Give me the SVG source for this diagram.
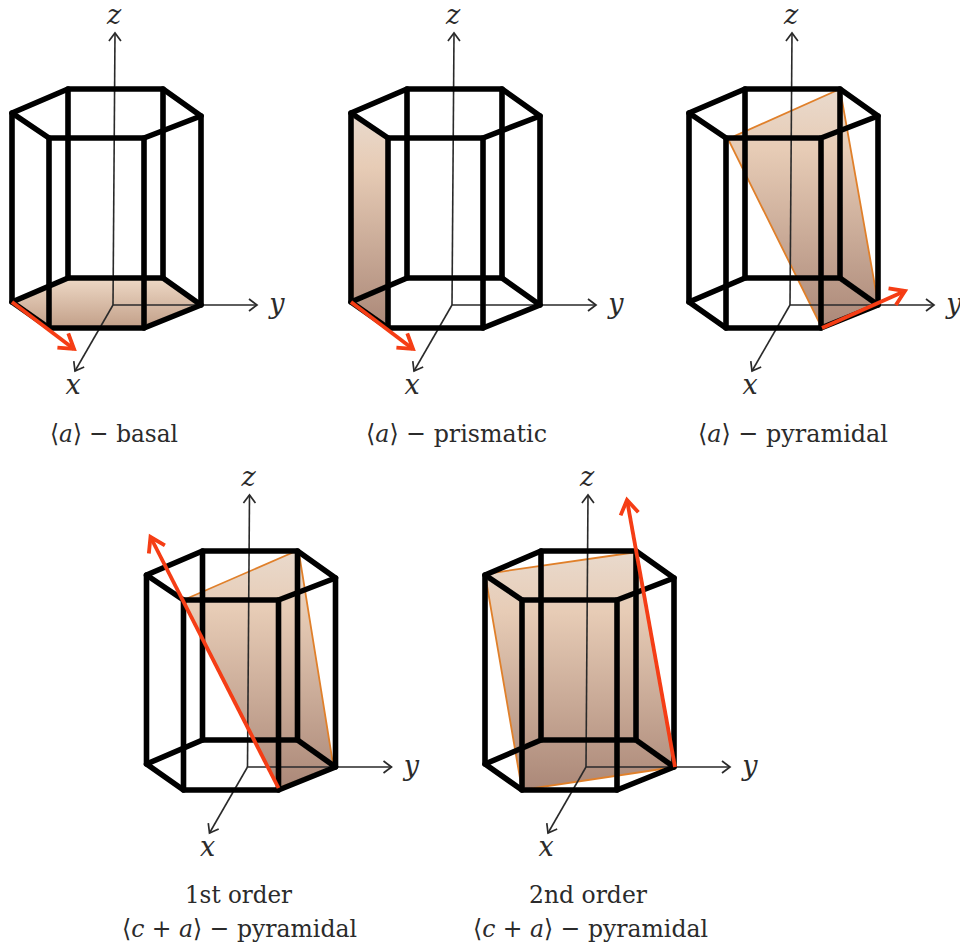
<svg xmlns="http://www.w3.org/2000/svg" xmlns:xlink="http://www.w3.org/1999/xlink" width="960" height="943" viewBox="0 0 960 943">
<style>
.hex{fill:none;stroke:#050505;stroke-width:5.6;stroke-linejoin:round;stroke-linecap:round}
.axis{fill:none;stroke:#2a2a2a;stroke-width:1.6;marker-end:url(#ah)}
.red{fill:none;stroke:#f53c12;stroke-width:3.8;marker-end:url(#rh)}
.edge{fill:none;stroke:#e0802c;stroke-width:1.8}
.lab{font-family:"DejaVu Serif","Liberation Serif",serif;fill:#2b2b2b;font-size:25px}
.it{font-style:italic;font-size:25px}
.ax{font-family:"DejaVu Serif","Liberation Serif",serif;fill:#2b2b2b;font-style:italic;font-size:27px;text-anchor:middle}
.art{filter:url(#soft)}
</style>
<defs>
<filter id="soft" x="-5%" y="-5%" width="110%" height="110%"><feGaussianBlur stdDeviation="0.55"/></filter>
<linearGradient id="g" x1="0" y1="0" x2="0" y2="1">
<stop offset="0" stop-color="#e9dacd"/><stop offset="0.25" stop-color="#e7ccb6"/><stop offset="1" stop-color="#ab8878"/>
</linearGradient>
<linearGradient id="gb" x1="0" y1="0" x2="0" y2="1">
<stop offset="0" stop-color="#eed9c6"/><stop offset="1" stop-color="#c29f88"/>
</linearGradient>
<marker id="ah" markerUnits="userSpaceOnUse" markerWidth="16" markerHeight="16" refX="10" refY="7" orient="auto"><path d="M2,1 L10,7 L2,13" fill="none" stroke="#2a2a2a" stroke-width="1.7"/></marker>
<marker id="rh" markerUnits="userSpaceOnUse" markerWidth="26" markerHeight="26" refX="18" refY="11" orient="auto"><path d="M4,2 L18,11 L4,20" fill="none" stroke="#f53c12" stroke-width="3.8"/></marker>
<g id="prism" class="hex">
<path d="M12,113 L68,89 H163 L201,116 L144,138 H49 Z"/>
<path d="M12,302 L68,278 H163 L201,305 L144,328 H49 Z"/>
<path d="M12,113 V302 M68,89 V278 M163,89 V278 M201,116 V305 M49,138 V328 M144,138 V328"/>
</g>
<g id="axes">
<path class="axis" d="M113,305 L115,33"/>
<path class="axis" d="M113,305 H257"/>
<path class="axis" d="M113,305 L75,371"/>
</g>
</defs>
<g id="panel-basal">
<g class="art">
<path d="M12,302 L68,278 H163 L201,305 L144,328 H49 Z" fill="url(#gb)"/>
<use xlink:href="#axes" href="#axes"/>
<use xlink:href="#prism" href="#prism"/>
<path class="red" d="M12,302 L74,349"/>
</g>
<text class="ax" x="114" y="24">z</text>
<text class="ax" x="277" y="313">y</text>
<text class="ax" x="73" y="394">x</text>
<text class="lab" x="50" y="442" textLength="128" lengthAdjust="spacingAndGlyphs">⟨<tspan class="it">a</tspan>⟩ − basal</text>
</g>
<g id="panel-prismatic" transform="translate(339,0)">
<g class="art">
<path d="M12,113 L49,138 V328 L12,302 Z" fill="url(#g)"/>
<use xlink:href="#axes" href="#axes"/>
<use xlink:href="#prism" href="#prism"/>
<path class="red" d="M12,302 L74,349"/>
</g>
<text class="ax" x="114" y="24">z</text>
<text class="ax" x="277" y="313">y</text>
<text class="ax" x="73" y="394">x</text>
<text class="lab" x="27" y="442" textLength="181" lengthAdjust="spacingAndGlyphs">⟨<tspan class="it">a</tspan>⟩ − prismatic</text>
</g>
<g id="panel-pyramidal" transform="translate(677,0)">
<g class="art">
<path d="M51,139 L163,89 L201,303 L145,328 Z" fill="url(#g)"/>
<path class="edge" d="M145,328 L51,139 L163,89 L201,303"/>
<use xlink:href="#axes" href="#axes"/>
<use xlink:href="#prism" href="#prism"/>
<path class="red" d="M145,328 L228,291"/>
</g>
<text class="ax" x="114" y="24">z</text>
<text class="ax" x="277" y="313">y</text>
<text class="ax" x="73" y="394">x</text>
<text class="lab" x="21" y="442" textLength="190" lengthAdjust="spacingAndGlyphs">⟨<tspan class="it">a</tspan>⟩ − pyramidal</text>
</g>
<g id="panel-first" transform="translate(134.5,462)">
<g class="art">
<path d="M49,138 L164,88 L199,305 L144,326 Z" fill="url(#g)"/>
<path class="edge" d="M144,326 L199,305 L164,88 L49,138"/>
<use xlink:href="#axes" href="#axes"/>
<use xlink:href="#prism" href="#prism"/>
<path class="red" d="M144,326 L16,75"/>
</g>
<text class="ax" x="114" y="24">z</text>
<text class="ax" x="277" y="313">y</text>
<text class="ax" x="73" y="394">x</text>
<text class="lab" x="50.5" y="441" textLength="107" lengthAdjust="spacingAndGlyphs">1st order</text>
<text class="lab" x="-12.5" y="475" textLength="235" lengthAdjust="spacingAndGlyphs">⟨<tspan class="it">c</tspan> + <tspan class="it">a</tspan>⟩ − pyramidal</text>
</g>
<g id="panel-second" transform="translate(473,462)">
<g class="art">
<path d="M12,112 L164,90 L202,305 L49,328 Z" fill="url(#g)"/>
<path class="edge" d="M164,90 L12,112 L49,328 L202,305"/>
<use xlink:href="#axes" href="#axes"/>
<use xlink:href="#prism" href="#prism"/>
<path class="red" d="M202,305 L154,38"/>
</g>
<text class="ax" x="114" y="24">z</text>
<text class="ax" x="277" y="313">y</text>
<text class="ax" x="73" y="394">x</text>
<text class="lab" x="56" y="441" textLength="118" lengthAdjust="spacingAndGlyphs">2nd order</text>
<text class="lab" x="0" y="475" textLength="235" lengthAdjust="spacingAndGlyphs">⟨<tspan class="it">c</tspan> + <tspan class="it">a</tspan>⟩ − pyramidal</text>
</g>
</svg>
